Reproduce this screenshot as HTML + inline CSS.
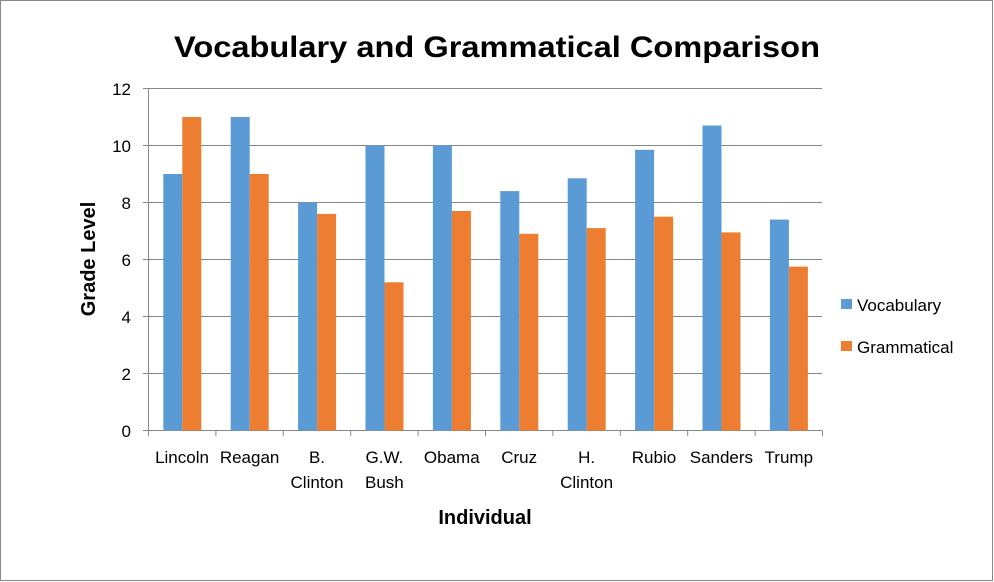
<!DOCTYPE html>
<html><head><style>body{margin:0;background:#fff}svg{display:block;font-family:"Liberation Sans",sans-serif}</style></head>
<body>
<svg width="994" height="582" viewBox="0 0 994 582" xmlns="http://www.w3.org/2000/svg">
<rect x="0.5" y="0.5" width="992" height="580" fill="#fff" stroke="#888" stroke-width="1"/>
<text x="497" y="57" text-anchor="middle" font-size="30" font-weight="bold" textLength="646" lengthAdjust="spacingAndGlyphs">Vocabulary and Grammatical Comparison</text>
<g stroke="#888" stroke-width="1">
<line x1="143" y1="88.5" x2="822" y2="88.5"/>
<line x1="143" y1="145.5" x2="822" y2="145.5"/>
<line x1="143" y1="202.5" x2="822" y2="202.5"/>
<line x1="143" y1="259.5" x2="822" y2="259.5"/>
<line x1="143" y1="316.5" x2="822" y2="316.5"/>
<line x1="143" y1="373.5" x2="822" y2="373.5"/>
<line x1="143" y1="430.5" x2="822" y2="430.5"/>
<line x1="148.5" y1="88.5" x2="148.5" y2="430.5"/>
<line x1="148.5" y1="430.5" x2="148.5" y2="436"/><line x1="215.9" y1="430.5" x2="215.9" y2="436"/><line x1="283.3" y1="430.5" x2="283.3" y2="436"/><line x1="350.7" y1="430.5" x2="350.7" y2="436"/><line x1="418.1" y1="430.5" x2="418.1" y2="436"/><line x1="485.5" y1="430.5" x2="485.5" y2="436"/><line x1="552.9" y1="430.5" x2="552.9" y2="436"/><line x1="620.3" y1="430.5" x2="620.3" y2="436"/><line x1="687.7" y1="430.5" x2="687.7" y2="436"/><line x1="755.1" y1="430.5" x2="755.1" y2="436"/><line x1="822.5" y1="430.5" x2="822.5" y2="436"/>
</g>
<g font-size="17" text-anchor="end">
<text x="131" y="95">12</text><text x="131" y="152">10</text><text x="131" y="209">8</text><text x="131" y="266">6</text><text x="131" y="323">4</text><text x="131" y="380">2</text><text x="131" y="437">0</text>
</g>
<g fill="#5B9BD5">
<rect x="163.3" y="174" width="19" height="256.5"/>
<rect x="230.7" y="117" width="19" height="313.5"/>
<rect x="298.1" y="202.5" width="19" height="228"/>
<rect x="365.5" y="145.5" width="19" height="285"/>
<rect x="432.9" y="145.5" width="19" height="285"/>
<rect x="500.3" y="191.1" width="19" height="239.4"/>
<rect x="567.7" y="178.3" width="19" height="252.2"/>
<rect x="635.1" y="149.8" width="19" height="280.7"/>
<rect x="702.5" y="125.5" width="19" height="305"/>
<rect x="769.9" y="219.6" width="19" height="210.9"/>
</g>
<g fill="#ED7D31">
<rect x="182.3" y="117" width="19" height="313.5"/>
<rect x="249.7" y="174" width="19" height="256.5"/>
<rect x="317.1" y="213.9" width="19" height="216.6"/>
<rect x="384.5" y="282.3" width="19" height="148.2"/>
<rect x="451.9" y="211" width="19" height="219.5"/>
<rect x="519.3" y="233.8" width="19" height="196.7"/>
<rect x="586.7" y="228.1" width="19" height="202.4"/>
<rect x="654.1" y="216.7" width="19" height="213.8"/>
<rect x="721.5" y="232.4" width="19" height="198.1"/>
<rect x="788.9" y="266.6" width="19" height="163.9"/>
</g>
<g font-size="17" text-anchor="middle">
<text x="182" y="463">Lincoln</text>
<text x="249.6" y="463">Reagan</text>
<text x="317" y="463">B.</text><text x="317" y="488">Clinton</text>
<text x="384.4" y="463">G.W.</text><text x="384.4" y="488">Bush</text>
<text x="451.8" y="463">Obama</text>
<text x="519.2" y="463">Cruz</text>
<text x="586.6" y="463">H.</text><text x="586.6" y="488">Clinton</text>
<text x="654" y="463">Rubio</text>
<text x="721.4" y="463">Sanders</text>
<text x="788.8" y="463">Trump</text>
</g>
<text x="485" y="524" text-anchor="middle" font-size="20" font-weight="bold">Individual</text>
<text transform="translate(95,259) rotate(-90)" text-anchor="middle" font-size="20" font-weight="bold">Grade Level</text>
<rect x="841" y="299" width="11" height="10" fill="#5B9BD5"/>
<rect x="841" y="341" width="11" height="10" fill="#ED7D31"/>
<g font-size="17"><text x="857" y="311">Vocabulary</text><text x="857" y="353">Grammatical</text></g>
</svg>
</body></html>
